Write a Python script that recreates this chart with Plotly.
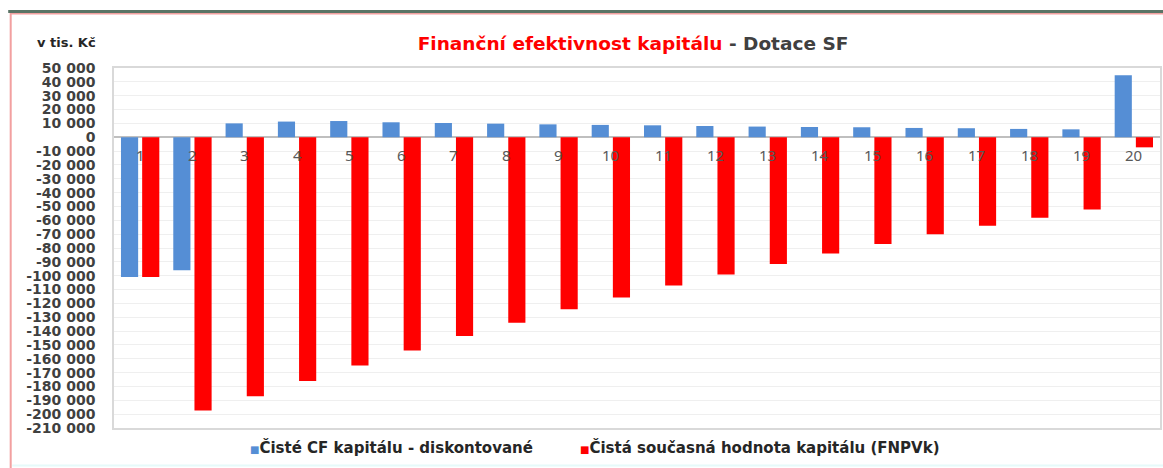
import plotly.graph_objects as go

# ---- data (v tis. Kč) ----
years = [str(i) for i in range(1, 21)]
cf_discounted = [-101000, -96000, 10000, 11300, 11700, 10800, 10300, 9800, 9300, 8900,
                 8600, 8100, 7700, 7400, 7200, 6700, 6500, 6000, 5700, 44800]
fnpvk = [-101000, -197300, -187100, -176100, -164900, -154000, -143500, -133900, -124300, -115700,
         -107000, -99100, -91600, -83900, -77100, -70100, -63900, -58100, -52200, -7300]
series_names = ["Čisté CF kapitálu - diskontované", "Čistá současná hodnota kapitálu (FNPVk)"]
tick_vals = list(range(-210000, 50001, 10000))
tick_text = [f"{v:,}".replace(",", " ") for v in tick_vals]

BLUE = "#558ed5"
RED = "#ff0000"

W, H = 1163, 468
ML, MR, MT, MB = 114, 1, 68, 40
PW, PH = W - ML - MR, H - MT - MB


def px2x(px):
    return (px - ML) / PW


def py2y(py):
    return (H - MB - py) / PH


fig = go.Figure()
fig.add_trace(go.Bar(x=years, y=cf_discounted, name=series_names[0], marker_color=BLUE,
                     marker_line_width=0, showlegend=False))
fig.add_trace(go.Bar(x=years, y=fnpvk, name=series_names[1], marker_color=RED,
                     marker_line_width=0, showlegend=False))

annotations = []
# category labels along the zero line
for i, c in enumerate(years):
    annotations.append(dict(x=i, y=0, xref="x", yref="y", text=c, showarrow=False,
                            yanchor="top", yshift=-6,
                            font=dict(family="Noto Sans", size=15, color="#595959")))
# unit label
annotations.append(dict(x=px2x(35), y=py2y(42), xref="paper", yref="paper", text="<b>v tis. Kč</b>",
                        showarrow=False, xanchor="left", yanchor="middle",
                        font=dict(family="DejaVu Sans", size=13, color="#262626")))
# legend
annotations.append(dict(x=px2x(248), y=py2y(447), xref="paper", yref="paper",
                        text=f"<span style='color:{BLUE};font-size:10px'>■</span><b>{series_names[0]}</b>",
                        showarrow=False, xanchor="left", yanchor="middle",
                        font=dict(family="DejaVu Sans", size=15, color="#262626")))
annotations.append(dict(x=px2x(579), y=py2y(447), xref="paper", yref="paper",
                        text=f"<span style='color:{RED};font-size:10px'>■</span><b>{series_names[1]}</b>",
                        showarrow=False, xanchor="left", yanchor="middle",
                        font=dict(family="DejaVu Sans", size=15, color="#262626")))

shapes = [
    # frame
    dict(type="rect", xref="paper", yref="paper", x0=px2x(10.5), x1=px2x(1175), y0=py2y(475), y1=py2y(13.5),
         line=dict(color="#f2a0a0", width=2), fillcolor="rgba(0,0,0,0)", layer="below"),
    dict(type="line", xref="paper", yref="paper", x0=px2x(8), x1=px2x(1175), y0=py2y(11.5), y1=py2y(11.5),
         line=dict(color="#5a7466", width=3)),
    dict(type="line", xref="paper", yref="paper", x0=px2x(12), x1=px2x(1175), y0=py2y(465.5), y1=py2y(465.5),
         line=dict(color="#e6fafa", width=2)),
]

fig.update_layout(
    width=W, height=H,
    margin=dict(l=ML, r=MR, t=MT, b=MB, pad=0),
    paper_bgcolor="white", plot_bgcolor="white",
    barmode="group", bargap=0.19, bargroupgap=0.19,
    title=dict(text=f"<b><span style='color:{RED}'>Finanční efektivnost kapitálu</span> - Dotace SF</b>",
               x=633 / W, xanchor="center", y=1 - 44 / H, yanchor="middle",
               font=dict(family="DejaVu Sans", size=18.5, color="#404040")),
    xaxis=dict(type="category", showticklabels=False, showgrid=False, ticks="",
               showline=True, mirror=True, linecolor="#d9d9d9", linewidth=1.5),
    yaxis=dict(range=[-210000, 50000], tickvals=tick_vals, ticktext=tick_text,
               showgrid=True, gridcolor="#efefef", gridwidth=1,
               zeroline=True, zerolinecolor="#bfbfbf", zerolinewidth=1.5,
               showline=True, mirror=True, linecolor="#d9d9d9", linewidth=1.5,
               ticks="", ticklabelstandoff=14,
               tickfont=dict(family="DejaVu Sans", size=14, color="#404040", weight="bold")),
    annotations=annotations, shapes=shapes,
)

fig.write_html("out.html", config={"displayModeBar": False},
               post_script="document.body.style.margin='0';document.body.style.overflow='hidden';")
